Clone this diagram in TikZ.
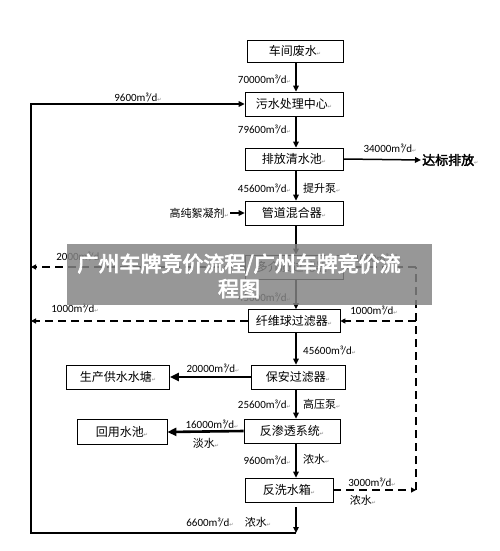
\documentclass[tikz,border=0pt]{standalone}
\usepackage{fontspec}
\setmainfont{Carlito}
\newfontfamily\cjk{Noto Sans CJK SC}
\newfontfamily\cjkbold[FakeBold=2.5]{Noto Sans CJK SC}
\newfontfamily\cjkheavy[FakeBold=3.5]{Noto Sans CJK SC}
\newfontfamily\symf{DejaVu Sans}
\usetikzlibrary{arrows.meta}

\newcommand{\retmark}{{\symf\fontsize{5}{5}\selectfont\textcolor{gray}{↵}}}
\newcommand{\rate}[1]{#1m³/d\retmark}

\begin{document}
\begin{tikzpicture}[x=1pt,y=-1pt,
  box/.style={draw, line width=0.7pt, minimum height=24pt, inner sep=1pt, font=\cjk\fontsize{12}{12}\selectfont},
  lbl/.style={font=\fontsize{11}{11}\selectfont, inner sep=1pt},
  note/.style={font=\cjk\fontsize{11}{11}\selectfont, inner sep=1pt},
  flow/.style={-{Triangle[length=6pt,width=5.5pt]}, line width=1.5pt},
  wide/.style={-{Triangle[length=9pt,width=8pt]}, line width=2.6pt},
  dashflow/.style={-{Triangle[length=5pt,width=5pt]}, line width=1.2pt, dash pattern=on 8pt off 5pt},
  dashline/.style={line width=1.2pt, dash pattern=on 8pt off 5pt},
]
\useasboundingbox (0,0) rectangle (500,551);

% === REFERENCE LINES ===
\coordinate (col) at (296,0);
\coordinate (lx) at (31,0);
\coordinate (rx) at (416,0);

% === MAIN COLUMN ===
\node[box, minimum width=96pt, minimum height=22pt] (src) at (295,51) {车间废水\retmark};
\node[box, minimum width=98pt] (center) at (294,104) {污水处理中心\retmark};
\node[box, minimum width=98pt, minimum height=22pt] (clear) at (294,159) {排放清水池\retmark};
\node[box, minimum width=98pt] (mixer) at (294,213) {管道混合器\retmark};
\node[box, minimum width=98pt] (media) at (294,267) {多介质过滤器\retmark};
\node[box, minimum width=92pt, minimum height=23pt] (fiber) at (294,321) {纤维球过滤器\retmark};
\node[box, minimum width=94pt] (guard) at (298,377) {保安过滤器\retmark};
\node[box, minimum width=96pt] (ro) at (292,431) {反渗透系统\retmark};
\node[box, minimum width=88pt] (tank) at (289,490) {反洗水箱\retmark};

% === SIDE BOXES ===
\node[box, minimum width=103pt] (pond) at (118,377) {生产供水水塘\retmark};
\node[box, minimum width=90pt, minimum height=25pt] (reuse) at (122,432) {回用水池\retmark};
\node[font=\cjkbold\fontsize{13}{13}\selectfont, inner sep=1pt, anchor=west] (outlet) at (421,160) {达标排放\retmark};
\node[note, anchor=east] (floc) at (230,213) {高纯絮凝剂\retmark};

% === VERTICAL FLOWS ===
\draw[flow] (src.south -| col) -- (center.north -| col);
\draw[flow] (center.south -| col) -- (clear.north -| col);
\draw[flow] (clear.south -| col) -- (mixer.north -| col);
\draw[flow] (mixer.south -| col) -- (media.north -| col);
\draw[flow] (media.south -| col) -- (fiber.north -| col);
\draw[flow] (fiber.south -| col) -- (guard.north -| col);
\draw[flow] (guard.south -| col) -- (ro.north -| col);
\draw[flow] (ro.south -| col) -- (tank.north -| col);

\node[lbl, anchor=east] (r70) at (292,79) {\rate{70000}};
\node[lbl, anchor=east] (r796) at (292,129) {\rate{79600}};
\node[lbl, anchor=east] (r456a) at (292,188) {\rate{45600}};
\node[note, anchor=west] (pump1) at (302,188) {提升泵\retmark};
\node[lbl, anchor=east] (r456b) at (292,297) {\rate{45600}};
\node[lbl, anchor=west] (r456c) at (302,350) {\rate{45600}};
\node[lbl, anchor=east] (r256) at (292,404) {\rate{25600}};
\node[note, anchor=west] (pump2) at (302,404) {高压泵\retmark};
\node[lbl, anchor=east] (r96b) at (292,460) {\rate{9600}};
\node[note, anchor=west] (conc1) at (302,459) {浓水\retmark};

% === SIDE FLOWS ===
\draw[flow] (clear.east) -- (outlet.west);
\node[lbl] (r340) at (390,148) {\rate{34000}};
\draw[flow, line width=1.2pt] (floc.east) -- (mixer.west);
\draw[wide] (guard.west) -- (pond.east);
\node[lbl] (r200) at (213,368) {\rate{20000}};
\draw[wide] (ro.west) -- (reuse.east);
\node[lbl] (r160) at (212,424) {\rate{16000}};
\node[note] (fresh) at (206,443) {淡水\retmark};

% === RETURN LOOP (left) ===
\coordinate (tankout) at (296,507);
\coordinate (bend) at (296,533);
\coordinate (sw) at (31,533);
\draw[flow] (bend) -- (sw) -- (sw |- center.west) -- (center.west);
\draw[flow] (tankout) -- (bend);
\node[lbl] (r96a) at (138,97) {\rate{9600}};
\node[lbl] (r66) at (210,522) {\rate{6600}};
\node[note] (conc3) at (258,522) {浓水\retmark};

\draw[dashflow] (media.west) -- (media.west -| lx);
\node[lbl] (r20) at (80,256) {\rate{2000}};
\draw[dashflow] (fiber.west) -- (fiber.west -| lx);
\node[lbl] (r10a) at (75,308) {\rate{1000}};

% === BACKWASH LOOP (right) ===
\draw[dashflow] (tank.east) -- (tank.east -| rx);
\draw[dashline] (tank.east -| rx) -- (media.east -| rx);
\draw[dashflow] (media.east -| rx) -- (media.east);
\draw[dashflow] (fiber.east -| rx) -- (fiber.east);
\node[lbl] (r30) at (372,482) {\rate{3000}};
\node[note] (conc2) at (363,500) {浓水\retmark};
\node[lbl] (r10b) at (378,258) {\rate{1000}};
\node[lbl] (r10c) at (374,310) {\rate{1000}};

% === WATERMARK ===
\fill[fill={rgb,255:red,131;green,131;blue,131}, opacity=0.84] (67,244) rectangle (432,305);
\node[font=\cjkheavy\fontsize{21}{25}\selectfont, text=white, align=center] (mark) at (239,276)
  {广州车牌竞价流程/广州车牌竞价流\\程图};
\end{tikzpicture}
\end{document}
